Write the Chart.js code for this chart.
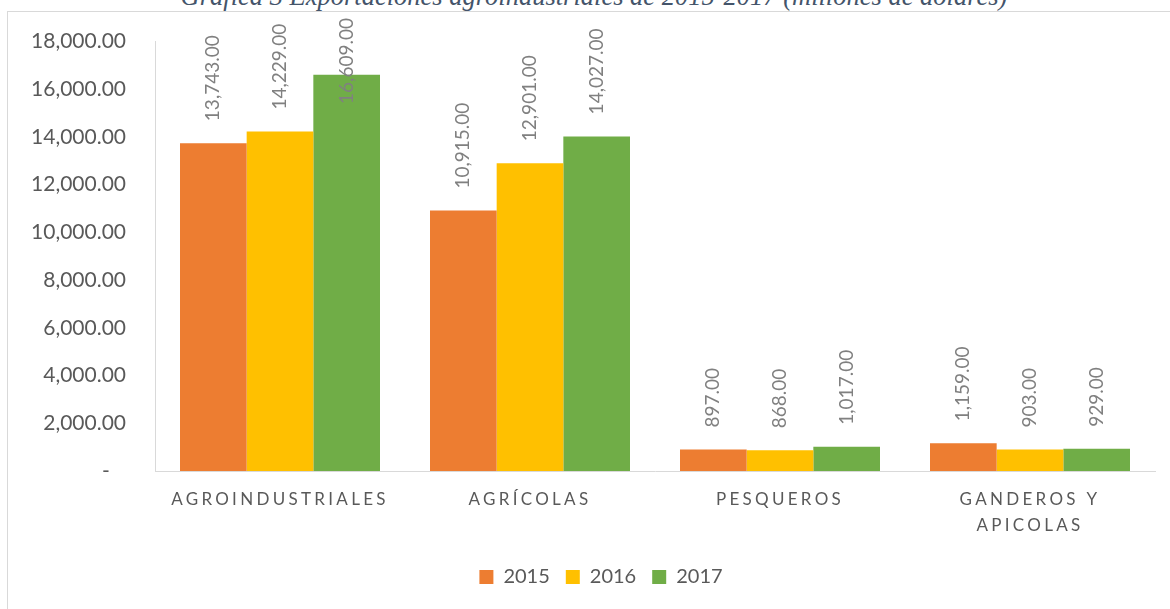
<!DOCTYPE html>
<html>
<head>
<meta charset="utf-8">
<script src="https://cdn.jsdelivr.net/npm/chart.js@4.4.1/dist/chart.umd.min.js"></script>
<style>
  html, body { margin: 0; padding: 0; background: #fff; overflow: hidden; }
  #wrap { position: relative; width: 1170px; height: 609px; }
  #frame { position: absolute; left: 7px; top: 11px; right: -10px; bottom: -10px;
           border-left: 1px solid #d9d9d9; border-top: 1px solid #d9d9d9; }
  #title { position: absolute; left: 0; width: 1188px; top: -16px; text-align: center;
           font: italic 26.5px/24px "Liberation Serif", "DejaVu Serif", serif; color: #44546a;
           white-space: nowrap; }
  canvas { position: absolute; left: 0; top: 0; }
</style>
</head>
<body>
<div id="wrap">
  <div id="frame"></div>
  <div id="title">Gráfica 3 Exportaciones agroindustriales de 2015-2017 (millones de dólares)</div>
  <canvas id="chart" width="1170" height="609"></canvas>
</div>
<script>
const categories = ['AGROINDUSTRIALES', 'AGRÍCOLAS', 'PESQUEROS', ['GANDEROS Y', 'APICOLAS']];
const years = ['2015', '2016', '2017'];
const values2015 = [13743, 10915, 897, 1159];
const values2016 = [14229, 12901, 868, 903];
const values2017 = [16609, 14027, 1017, 929];
const yTicks = [0, 2000, 4000, 6000, 8000, 10000, 12000, 14000, 16000, 18000];

const colors = ['#ed7d31', '#ffc000', '#70ad47'];
const textGrey = '#595959';
const lineGrey = '#d9d9d9';
const font = 'Lato, "Open Sans", sans-serif';

const fmt = v => v.toLocaleString('en-US', { minimumFractionDigits: 2, maximumFractionDigits: 2 });

// rotated value labels above each bar, pushed down when they would leave the top
const barLabels = {
    id: 'barLabels',
    afterDatasetsDraw(chart) {
        const ctx = chart.ctx;
        ctx.save();
        ctx.font = '19px ' + font;
        ctx.fillStyle = '#808080';
        ctx.textAlign = 'left';
        ctx.textBaseline = 'middle';
        chart.data.datasets.forEach((ds, di) => {
            chart.getDatasetMeta(di).data.forEach((bar, i) => {
                const txt = fmt(ds.data[i]);
                const w = ctx.measureText(txt).width;
                let start = bar.y - 22;
                if (start - w < 18) start = 18 + w;
                ctx.save();
                ctx.translate(bar.x, start);
                ctx.rotate(-Math.PI / 2);
                ctx.fillText(txt, 0, 0);
                ctx.restore();
            });
        });
        ctx.restore();
    }
};

// wider letter spacing on the category labels, legend nudged to its place
const spacedCategories = {
    id: 'spacedCategories',
    afterLayout(chart) {
        chart.legend.left += 20;
        chart.legend.right += 20;
    },
    beforeDraw(chart) {
        const sc = chart.scales.x;
        if (sc._spaced) return;
        const orig = sc.drawLabels;
        sc.drawLabels = function (area) {
            this.ctx.save();
            this.ctx.letterSpacing = '3.3px';
            orig.call(this, area);
            this.ctx.restore();
        };
        sc._spaced = true;
    }
};

new Chart(document.getElementById('chart'), {
    type: 'bar',
    data: {
        labels: categories,
        datasets: [
            { label: years[0], data: values2015, backgroundColor: colors[0] },
            { label: years[1], data: values2016, backgroundColor: colors[1] },
            { label: years[2], data: values2017, backgroundColor: colors[2] }
        ]
    },
    options: {
        responsive: false,
        animation: false,
        events: [],
        layout: { padding: { left: 7, top: 40, right: 15, bottom: 12 } },
        datasets: { bar: { categoryPercentage: 0.8, barPercentage: 1.0, borderWidth: 0 } },
        plugins: {
            legend: {
                position: 'bottom',
                labels: {
                    color: textGrey,
                    font: { family: font, size: 20 },
                    boxWidth: 14,
                    boxHeight: 14,
                    padding: 16
                }
            },
            tooltip: { enabled: false }
        },
        scales: {
            x: {
                grid: { display: false, drawTicks: false },
                border: { display: true, color: lineGrey, width: 1 },
                ticks: {
                    color: textGrey,
                    font: { family: font, size: 17, lineHeight: 1.5 },
                    padding: 16,
                    maxRotation: 0,
                    autoSkip: false
                },
                afterFit: s => { s.height = 80; }
            },
            y: {
                min: 0,
                max: 18000,
                grid: { display: false, drawTicks: false },
                border: { display: true, color: lineGrey, width: 1 },
                afterBuildTicks: s => { s.ticks = yTicks.map(v => ({ value: v })); },
                ticks: {
                    color: textGrey,
                    font: { family: font, size: 21 },
                    padding: 29,
                    callback: v => v === 0 ? '-   ' : fmt(v)
                },
                afterFit: s => { s.width = 148; }
            }
        }
    },
    plugins: [barLabels, spacedCategories]
});
</script>
</body>
</html>
